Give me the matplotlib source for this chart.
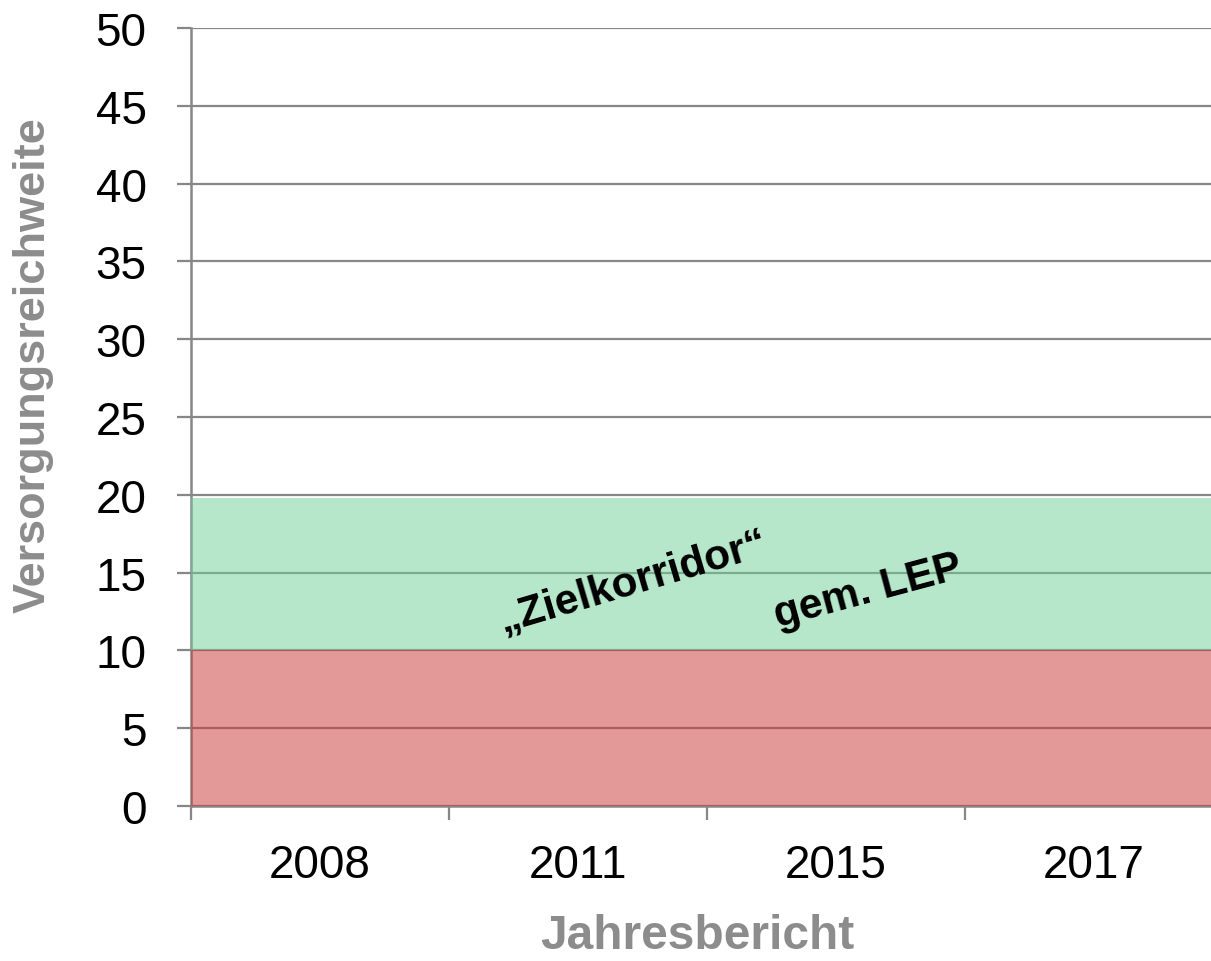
import matplotlib
matplotlib.use("Agg")
import matplotlib.pyplot as plt
import numpy as np

categories = ["2008", "2011", "2015", "2017"]
red_values = [10, 10, 10, 10]
green_values = [9.8, 9.8, 9.8, 9.8]
y_ticks = [0, 5, 10, 15, 20, 25, 30, 35, 40, 45, 50]

plt.rcParams['font.family'] = ['Liberation Sans', 'DejaVu Sans']

W, H = 1211, 962
fig = plt.figure(figsize=(W / 100, H / 100), dpi=100)
ax = fig.add_axes([191 / W, 1 - 807 / H, (1211 - 191) / W, (807 - 29) / H])

grid_c = '#878787'
x = np.arange(len(categories))
ax.bar(x, red_values, width=1.0, align='edge', color='#CB3535', alpha=0.5, linewidth=0, zorder=3)
ax.bar(x, green_values, bottom=red_values, width=1.0, align='edge', color='#71D199', alpha=0.5,
       linewidth=0, zorder=3)

ax.set_xlim(0, 1020 / 258)
ax.set_ylim(0, 50)
ax.set_yticks(y_ticks)
ax.set_yticklabels([str(v) for v in y_ticks])
ax.yaxis.grid(True, color=grid_c, linewidth=1.6, zorder=1)
ax.set_axisbelow(True)

ax.set_xticks(np.arange(len(categories)))
ax.set_xticklabels([])
ax.set_xticks(x + 0.5, minor=True)
ax.set_xticklabels(categories, minor=True)
ax.tick_params(axis='x', which='major', direction='out', length=10, width=1.6, color=grid_c)
ax.tick_params(axis='x', which='minor', length=0, pad=27, labelsize=33)
ax.tick_params(axis='y', direction='out', length=10, width=1.6, color=grid_c, pad=22, labelsize=33)

for s in ['top', 'right']:
    ax.spines[s].set_visible(False)
for s in ['left', 'bottom']:
    ax.spines[s].set_color(grid_c)
    ax.spines[s].set_linewidth(1.8)
    ax.spines[s].set_zorder(2)

fig.text(33 / W, 1 - 365 / H, "Versorgungsreichweite", rotation=90, ha='center', va='center',
         fontsize=32.5, fontweight='bold', color='#8C8C8C')
fig.text(697 / W, 1 - 937 / H, "Jahresbericht", ha='center', va='center',
         fontsize=34.5, fontweight='bold', color='#8C8C8C')

fig.text(633 / W, 1 - 582 / H, "\u201EZielkorridor\u201C", rotation=16.5, ha='center', va='center',
         fontsize=30.5, fontweight='bold', color='black')
fig.text(868 / W, 1 - 592 / H, "gem. LEP", rotation=15, ha='center', va='center',
         fontsize=30.5, fontweight='bold', color='black')

fig.savefig("out.png", dpi=100)
